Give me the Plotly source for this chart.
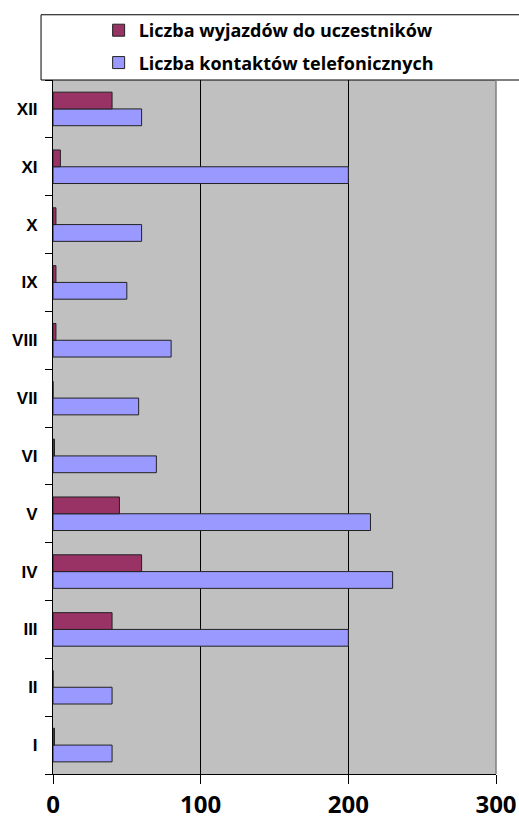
import plotly.graph_objects as go

months = ["I", "II", "III", "IV", "V", "VI", "VII", "VIII", "IX", "X", "XI", "XII"]
wyjazdy = [1, 0, 40, 60, 45, 1, 0, 2, 2, 2, 5, 40]
kontakty = [40, 40, 200, 230, 215, 70, 58, 80, 50, 60, 200, 60]
x_ticks = [0, 100, 200, 300]

FONT = "Open Sans"

fig = go.Figure()
fig.add_trace(go.Bar(
    y=months, x=kontakty, orientation="h",
    name="Liczba kontaktów telefonicznych",
    marker=dict(color="#9999FF", line=dict(color="#222222", width=1)),
    legendrank=2, legendgroup="b",
))
fig.add_trace(go.Bar(
    y=months, x=wyjazdy, orientation="h",
    name="Liczba wyjazdów do uczestników",
    marker=dict(color="#993366", line=dict(color="#222222", width=1)),
    legendrank=1, legendgroup="a",
))

fig.update_layout(
    width=519, height=821,
    margin=dict(l=53, r=23, t=80, b=47, autoexpand=False),
    paper_bgcolor="white",
    plot_bgcolor="#C0C0C0",
    barmode="group",
    bargap=0.42,
    bargroupgap=0,
    font=dict(family=FONT, color="black"),
    legend=dict(
        x=0.103, xanchor="left", y=1.098, yanchor="top",
        font=dict(family=FONT, size=18, weight="bold", color="black"),
        bgcolor="rgba(0,0,0,0)", borderwidth=0,
        tracegroupgap=6, itemwidth=30,
    ),
    xaxis=dict(
        range=[0, 300], tickvals=x_ticks, ticktext=[str(v) for v in x_ticks],
        showgrid=True, gridcolor="black", gridwidth=1,
        showline=True, linecolor="black", linewidth=1,
        ticks="outside", ticklen=9, tickcolor="black",
        tickfont=dict(family=FONT, size=24, weight="bold"),
        zeroline=False, automargin=False,
    ),
    yaxis=dict(
        categoryorder="array", categoryarray=months,
        showgrid=False, showline=True, linecolor="black", linewidth=1,
        ticks="outside", ticklen=7, tickcolor="black", tickson="boundaries",
        tickfont=dict(family="Liberation Sans", size=17, weight="bold"),
        ticklabelstandoff=11, automargin=False,
    ),
    shapes=[
        dict(type="rect", xref="paper", yref="paper", x0=-0.027, x1=1.06,
             y0=1.0, y1=1.094, line=dict(color="black", width=1), fillcolor="white", layer="below"),
        dict(type="line", xref="paper", yref="paper", x0=1, x1=1, y0=0, y1=1,
             line=dict(color="#808080", width=1.5)),
    ],
)

fig.write_html(
    "out.html",
    config={"displayModeBar": False},
    post_script="document.body.style.margin='0';document.body.style.overflow='hidden';",
)
